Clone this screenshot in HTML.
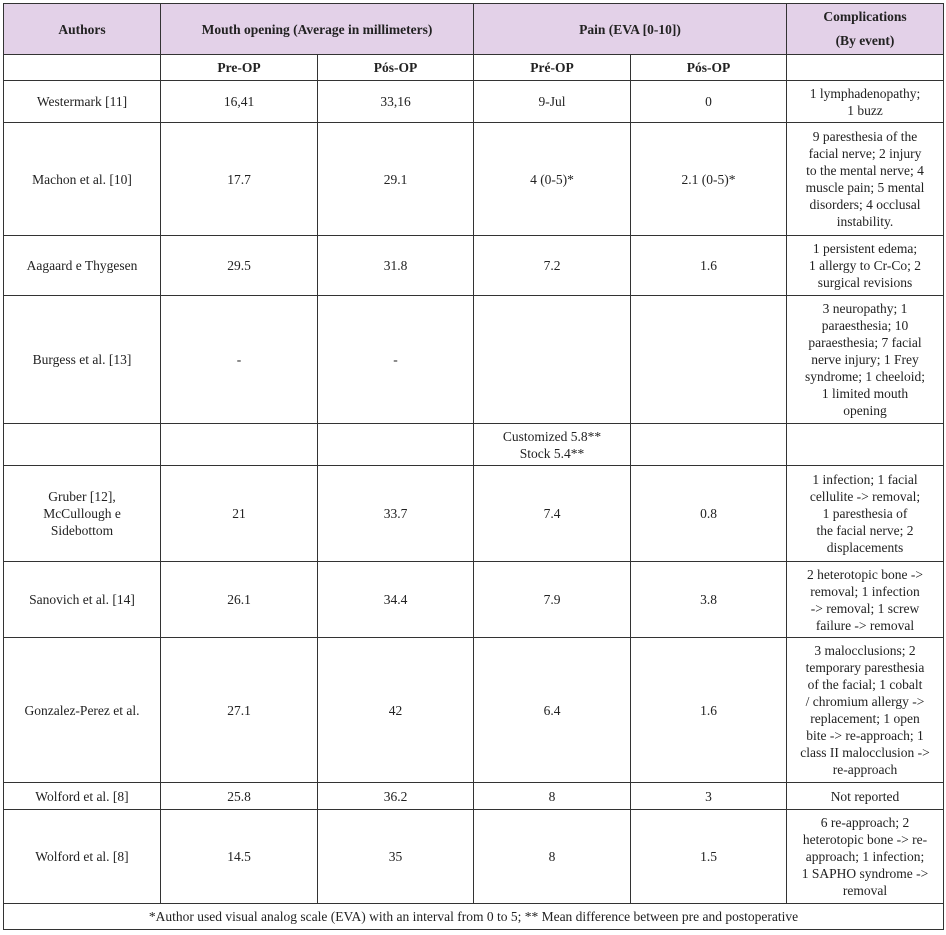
<!DOCTYPE html>
<html><head><meta charset="utf-8"><style>
body{margin:0;background:#fff;}
table{position:absolute;left:3px;top:3px;border-collapse:collapse;table-layout:fixed;font-family:"Liberation Serif",serif;font-size:13.5px;color:#222;}
td{border:1px solid #333;text-align:center;vertical-align:middle;padding:0 2px;line-height:17px;overflow:hidden;}
.h td{background:#e3d1e8;font-weight:bold;}
.b{font-weight:bold;}
</style></head><body>
<table>
<colgroup><col style="width:157px"><col style="width:157px"><col style="width:156px"><col style="width:157px"><col style="width:156px"><col style="width:157px"></colgroup>
<tr class="h" style="height:51px"><td>Authors</td><td colspan="2">Mouth opening (Average in millimeters)</td><td colspan="2">Pain (EVA [0-10])</td><td style="line-height:24px">Complications<br>(By event)</td></tr>
<tr style="height:26px" class="b"><td></td><td>Pre-OP</td><td>Pós-OP</td><td>Pré-OP</td><td>Pós-OP</td><td></td></tr>
<tr style="height:42px"><td>Westermark [11]</td><td>16,41</td><td>33,16</td><td>9-Jul</td><td>0</td><td>1 lymphadenopathy;<br>1 buzz</td></tr>
<tr style="height:113px"><td>Machon et al. [10]</td><td>17.7</td><td>29.1</td><td>4 (0-5)*</td><td>2.1 (0-5)*</td><td>9 paresthesia of the<br>facial nerve; 2 injury<br>to the mental nerve; 4<br>muscle pain; 5 mental<br>disorders; 4 occlusal<br>instability.</td></tr>
<tr style="height:60px"><td>Aagaard e Thygesen</td><td>29.5</td><td>31.8</td><td>7.2</td><td>1.6</td><td>1 persistent edema;<br>1 allergy to Cr-Co; 2<br>surgical revisions</td></tr>
<tr style="height:128px"><td>Burgess et al. [13]</td><td>-</td><td>-</td><td></td><td></td><td>3 neuropathy; 1<br>paraesthesia; 10<br>paraesthesia; 7 facial<br>nerve injury; 1 Frey<br>syndrome; 1 cheeloid;<br>1 limited mouth<br>opening</td></tr>
<tr style="height:42px"><td></td><td></td><td></td><td>Customized 5.8**<br>Stock 5.4**</td><td></td><td></td></tr>
<tr style="height:96px"><td>Gruber [12],<br>McCullough e<br>Sidebottom</td><td>21</td><td>33.7</td><td>7.4</td><td>0.8</td><td>1 infection; 1 facial<br>cellulite -&gt; removal;<br>1 paresthesia of<br>the facial nerve; 2<br>displacements</td></tr>
<tr style="height:76px"><td>Sanovich et al. [14]</td><td>26.1</td><td>34.4</td><td>7.9</td><td>3.8</td><td>2 heterotopic bone -&gt;<br>removal; 1 infection<br>-&gt; removal; 1 screw<br>failure -&gt; removal</td></tr>
<tr style="height:145px"><td>Gonzalez-Perez et al.</td><td>27.1</td><td>42</td><td>6.4</td><td>1.6</td><td>3 malocclusions; 2<br>temporary paresthesia<br>of the facial; 1 cobalt<br>/ chromium allergy -&gt;<br>replacement; 1 open<br>bite -&gt; re-approach; 1<br>class II malocclusion -&gt;<br>re-approach</td></tr>
<tr style="height:27px"><td>Wolford et al. [8]</td><td>25.8</td><td>36.2</td><td>8</td><td>3</td><td>Not reported</td></tr>
<tr style="height:94px"><td>Wolford et al. [8]</td><td>14.5</td><td>35</td><td>8</td><td>1.5</td><td>6 re-approach; 2<br>heterotopic bone -&gt; re-<br>approach; 1 infection;<br>1 SAPHO syndrome -&gt;<br>removal</td></tr>
<tr style="height:26px"><td colspan="6">*Author used visual analog scale (EVA) with an interval from 0 to 5; ** Mean difference between pre and postoperative</td></tr>
</table>
</body></html>
